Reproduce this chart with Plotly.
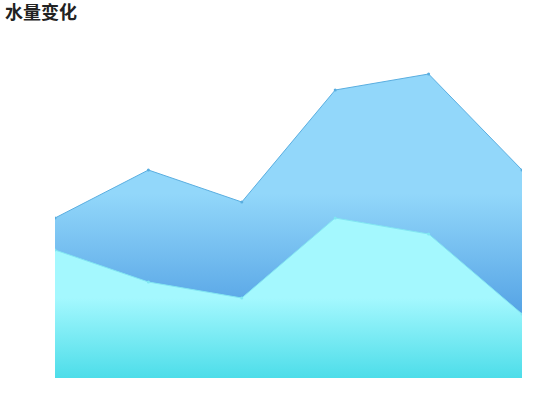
import plotly.graph_objects as go

categories = ['1', '2', '3', '4', '5', '6']
lower_values = [80, 60, 50, 100, 90, 40]
upper_values = [20, 70, 60, 80, 100, 90]
series_names = ['A', 'B']

fig = go.Figure()

fig.add_trace(go.Scatter(
    x=categories,
    y=lower_values,
    name=series_names[0],
    mode='lines+markers',
    stackgroup='one',
    line=dict(color='#7fe6f2', width=1),
    marker=dict(size=3, color='#7fe6f2'),
    fillgradient=dict(
        type='vertical',
        start=0,
        stop=100,
        colorscale=[[0, '#4ddde9'], [0.5, '#a4f8fe'], [1, '#a4f8fe']]
    )
))

fig.add_trace(go.Scatter(
    x=categories,
    y=upper_values,
    name=series_names[1],
    mode='lines+markers',
    stackgroup='one',
    line=dict(color='#5aaee0', width=1),
    marker=dict(size=3, color='#5aaee0'),
    fillgradient=dict(
        type='vertical',
        start=40,
        stop=190,
        colorscale=[[0, '#55a3e5'], [0.5, '#92d7fa'], [1, '#92d7fa']]
    )
))

fig.update_layout(
    width=550,
    height=420,
    plot_bgcolor='white',
    paper_bgcolor='white',
    showlegend=False,
    margin=dict(l=55, r=28, t=58, b=42),
    title=dict(
        text='<b>水量变化</b>',
        xref='container',
        yref='container',
        x=5 / 550,
        xanchor='left',
        y=1 - 6 / 420,
        yanchor='top',
        font=dict(size=18, family='Noto Sans CJK SC', color='#222')
    ),
    xaxis=dict(visible=False, range=[0, 5]),
    yaxis=dict(visible=False, range=[0, 200]),
)

# page has a default 8px body margin, drop it so the figure sits at 0,0
fig.write_html('out.html', config={'displayModeBar': False},
               post_script="document.body.style.margin='0px';")
